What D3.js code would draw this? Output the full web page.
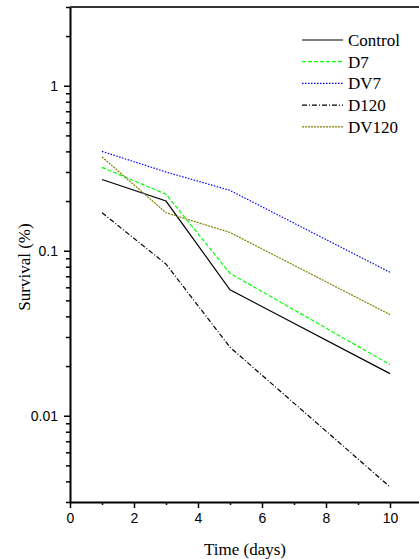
<!DOCTYPE html>
<html>
<head>
<meta charset="utf-8">
<script src="https://cdn.jsdelivr.net/npm/d3@7"></script>
<style>
  body { margin: 0; background: #fff; }
  .tick text { font-family: "Liberation Sans", Arial, sans-serif; font-size: 14px; }
  .title, .legend text { font-family: "Liberation Serif", "Times New Roman", serif; font-size: 17px; }
</style>
</head>
<body>
<svg width="419" height="559"></svg>
<script>
// days sampled
const days = [1, 3, 5, 10];

// survival (%) per group
const control = [0.27, 0.20, 0.058, 0.018];
const d7 = [0.32, 0.22, 0.073, 0.0204];
const dv7 = [0.40, 0.30, 0.232, 0.074];
const d120 = [0.17, 0.083, 0.026, 0.0037];
const dv120 = [0.37, 0.17, 0.129, 0.041];

const seriesNames = ["Control", "D7", "DV7", "D120", "DV120"];
const seriesValues = [control, d7, dv7, d120, dv120];

const xTicks = [0, 2, 4, 6, 8, 10];
const yTicks = [0.01, 0.1, 1];

const styles = {
    "Control": {color: "#000", dash: null},
    "D7": {color: "#00ff00", dash: "4,2"},
    "DV7": {color: "#0000ff", dash: "1.5,1.5"},
    "D120": {color: "#000", dash: "5,2,1,2"},
    "DV120": {color: "#808000", dash: "2,1"}
};

const svg = d3.select("svg");

const x = d3.scaleLinear().domain([0, 11]).range([70, 422]);
const y = d3.scaleLog().domain([0.003, 3]).range([502, 7]);

// minor ticks
const xMinor = d3.range(1, 11, 2);
const yMinor = [];
[0.001, 0.01, 0.1, 1].forEach(d => {
    for (let k = 2; k <= 9; k++) {
        const v = d * k;
        if (v >= 0.003 && v <= 3) yMinor.push(v);
    }
});

svg.append("g")
    .attr("transform", "translate(0,502)")
    .call(d3.axisBottom(x).tickValues(xMinor).tickSize(3).tickFormat(""))
    .call(g => g.select(".domain").remove())
    .selectAll("line").attr("stroke-width", 1.5);

svg.append("g")
    .attr("transform", "translate(70,0)")
    .call(d3.axisLeft(y).tickValues(yMinor).tickSize(4).tickFormat(""))
    .call(g => g.select(".domain").remove())
    .selectAll("line").attr("stroke-width", 1.5);

const xAxis = svg.append("g")
    .attr("transform", "translate(0,502)")
    .call(d3.axisBottom(x).tickValues(xTicks).tickSize(6).tickSizeOuter(0).tickPadding(5).tickFormat(d3.format("d")));
xAxis.select(".domain").attr("stroke-width", 2);
xAxis.selectAll("line").attr("stroke-width", 1.5);
xAxis.selectAll("text").attr("fill", "#000");

const yAxis = svg.append("g")
    .attr("transform", "translate(70,0)")
    .call(d3.axisLeft(y).tickValues(yTicks).tickSize(6).tickSizeOuter(0).tickPadding(6).tickFormat(d => d3.format("~g")(d)));
yAxis.select(".domain").attr("stroke-width", 2);
yAxis.selectAll("line").attr("stroke-width", 1.5);
yAxis.selectAll("text").attr("fill", "#000");

// top frame
svg.append("line")
    .attr("x1", 70).attr("x2", 419)
    .attr("y1", 7).attr("y2", 7)
    .attr("stroke", "#333").attr("stroke-width", 2);

const line = d3.line().x(d => x(d[0])).y(d => y(d[1]));

seriesNames.forEach((name, i) => {
    svg.append("path")
        .datum(days.map((d, j) => [d, seriesValues[i][j]]))
        .attr("fill", "none")
        .attr("stroke", styles[name].color)
        .attr("stroke-width", 1.2)
        .attr("stroke-dasharray", styles[name].dash)
        .attr("d", line);
});

// legend
const legend = svg.append("g").attr("class", "legend");
seriesNames.forEach((name, i) => {
    const ly = 40 + i * 21.7;
    legend.append("line")
        .attr("x1", 302).attr("x2", 343)
        .attr("y1", ly).attr("y2", ly)
        .attr("stroke", styles[name].color)
        .attr("stroke-width", 1.2)
        .attr("stroke-dasharray", styles[name].dash);
    legend.append("text")
        .attr("x", 348).attr("y", ly + 6)
        .text(name);
});

svg.append("text")
    .attr("class", "title")
    .attr("x", 245).attr("y", 555)
    .attr("text-anchor", "middle")
    .text("Time (days)");

svg.append("text")
    .attr("class", "title")
    .attr("transform", "translate(30,267) rotate(-90)")
    .attr("text-anchor", "middle")
    .text("Survival (%)");
</script>
</body>
</html>
